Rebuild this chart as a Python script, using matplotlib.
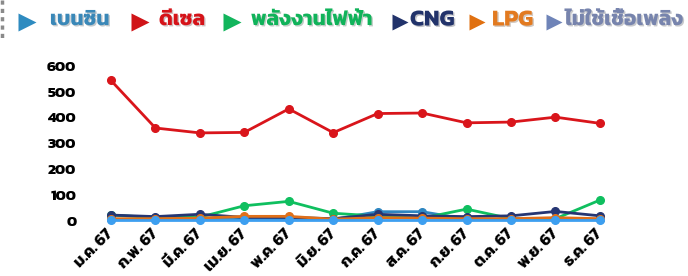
import glob
import matplotlib
matplotlib.use("Agg")
import matplotlib.pyplot as plt
import matplotlib.patheffects as pe
import matplotlib.transforms as mtransforms
from matplotlib import font_manager
from matplotlib.lines import Line2D

# pick a Thai-capable font if it is there
fam = "DejaVu Sans"
for pat in ["Kanit-SemiBold.ttf", "Kanit-Bold.ttf", "Prompt-SemiBold.ttf", "Kanit-Regular.ttf"]:
    hits = glob.glob("/usr/share/fonts/**/" + pat, recursive=True)
    if hits:
        font_manager.fontManager.addfont(hits[0])
        fam = font_manager.FontProperties(fname=hits[0]).get_name()
        break
plt.rcParams['font.family'] = [fam, 'DejaVu Sans']

months = ['ม.ค. 67', 'ก.พ. 67', 'มี.ค. 67', 'เม.ย. 67', 'พ.ค. 67', 'มิ.ย. 67',
          'ก.ค. 67', 'ส.ค. 67', 'ก.ย. 67', 'ต.ค. 67', 'พ.ย. 67', 'ธ.ค. 67']

benzin   = [5, 5, 5, 5, 5, 5, 35, 35, 6, 5, 5, 5]
diesel   = [543, 359, 340, 342, 433, 341, 415, 417, 379, 382, 401, 377]
electric = [22, 12, 14, 58, 75, 29, 18, 10, 45, 8, 8, 80]
cng      = [22, 16, 25, 13, 13, 8, 25, 19, 16, 19, 36, 19]
lpg      = [8, 8, 10, 17, 17, 6, 12, 10, 8, 8, 12, 8]
nofuel   = [1, 1, 1, 1, 1, 1, 1, 1, 1, 1, 1, 1]

names = ['เบนซิน', 'ดีเซล', 'พลังงานไฟฟ้า', 'CNG', 'LPG', 'ไม่ใช้เชื้อเพลิง']
series = [benzin, diesel, electric, cng, lpg, nofuel]
line_colors = ['#2e86c1', '#d9151b', '#0fbf5f', '#263673', '#e0701a', '#3d9ff0']
text_colors = ['#3a88b8', '#d61319', '#10b35a', '#22336b', '#e27a20', '#7784ad']
mark_colors = ['#2e8bc0', '#d01418', '#12b55c', '#22336b', '#e07010', '#6f84b8']

fig = plt.figure(figsize=(6.88, 2.76), dpi=100)
ax = fig.add_axes([0.129, 0.1815, 0.7753, 0.599])

x = range(len(months))
order = [0, 1, 2, 4, 3, 5]
for i in order:
    ax.plot(x, series[i], color=line_colors[i], lw=2, marker='o', ms=5.5,
            solid_capstyle='round', zorder=2 + i)

ax.set_xlim(-0.5, 11.5)
ax.set_ylim(-20, 620)
ax.set_yticks(range(0, 601, 100))
ax.set_xticks(list(x))
ax.set_xticklabels(months, rotation=45, ha='right', va='center',
                   rotation_mode='anchor', fontsize=11.5, fontweight='bold')
shift = mtransforms.ScaledTranslation(5 / 100, -5 / 100, fig.dpi_scale_trans)
for lab in ax.get_xticklabels():
    lab.set_transform(lab.get_transform() + shift)
for lab in ax.get_yticklabels():
    lab.set_fontsize(11)
    lab.set_fontweight('bold')
ax.tick_params(length=0)
ax.tick_params(axis='y', pad=9)
ax.tick_params(axis='x', pad=4)
for s in ax.spines.values():
    s.set_visible(False)

# custom legend row on top
mk_x = [27, 140, 232, 400, 477, 554]
mk_s = [13, 13, 13, 11, 11, 11]
tx_x = [50, 159, 251, 410, 492, 565]
tx_s = [15, 15, 15, 16.5, 16.5, 15]
for i in range(len(names)):
    fig.lines.append(Line2D([mk_x[i] / 688], [1 - 22 / 276], transform=fig.transFigure,
                            marker='>', ms=mk_s[i], color=mark_colors[i], mec='none', ls='none'))
    fig.text(tx_x[i] / 688, 1 - 20 / 276, names[i], color=text_colors[i], fontsize=tx_s[i],
             fontweight='bold', va='center', ha='left',
             path_effects=[pe.SimplePatchShadow(offset=(1, -1), alpha=0.25),
                           pe.Normal()])

# dotted edge on the left
fig.lines.append(Line2D([2 / 688, 2 / 688], [1, 1 - 38 / 276], transform=fig.transFigure,
                        color='#8a8a8a', lw=2.5, ls=(0, (1.2, 1.2))))

fig.savefig("out.png")
